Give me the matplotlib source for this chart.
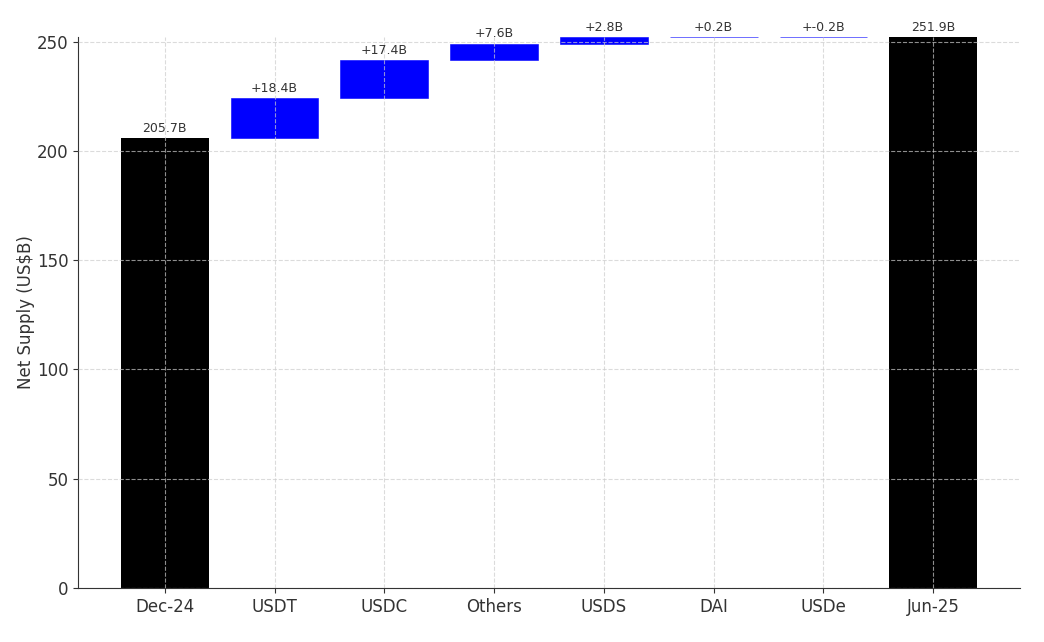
import numpy as np
import matplotlib
matplotlib.use("Agg")
import matplotlib.pyplot as plt

categories = ['Dec-24', 'USDT', 'USDC', 'Others', 'USDS', 'DAI', 'USDe', 'Jun-25']
start_value = 205.7
changes = [18.4, 17.4, 7.6, 2.8, 0.2, -0.2]
end_value = 251.9

fig, ax = plt.subplots(figsize=(10.44, 6.42), dpi=100)
fig.subplots_adjust(left=0.0747, right=0.977, top=0.9424, bottom=0.0841)

x = np.arange(len(categories))
width = 0.8

# totals
ax.bar(x[0], start_value, width, color='black', zorder=1)
ax.bar(x[-1], end_value, width, color='black', zorder=1)
ax.text(x[0], start_value + 1.5, f'{start_value:.1f}B', ha='center', va='bottom', fontsize=9, color='#333333')
ax.text(x[-1], end_value + 1.5, f'{end_value:.1f}B', ha='center', va='bottom', fontsize=9, color='#333333')

# deltas
running = start_value
tops = [start_value, end_value]
for i, c in enumerate(changes):
    ax.bar(x[i + 1], c, width, bottom=running, color='blue', edgecolor='blue',
           linewidth=0.4, alpha=1.0, zorder=1, clip_on=False)
    top = max(running, running + c)
    ax.text(x[i + 1], top + 1.5, f'+{c:.1f}B', ha='center', va='bottom', fontsize=9, color='#333333')
    running += c
    tops.append(top)

ax.set_xticks(x)
ax.set_xticklabels(categories)
ax.set_ylim(0, max(tops))
ax.set_ylabel('Net Supply (US$B)', fontsize=12, color='#333333', labelpad=1)
ax.tick_params(axis='both', labelsize=12, colors='#333333')
ax.grid(True, linestyle='--', color='#cccccc', alpha=0.7, linewidth=0.8, zorder=2)
ax.set_axisbelow(False)
for s in ['top', 'right']:
    ax.spines[s].set_visible(False)
for s in ['left', 'bottom']:
    ax.spines[s].set_color('#333333')

plt.savefig('out.png', dpi=100)
